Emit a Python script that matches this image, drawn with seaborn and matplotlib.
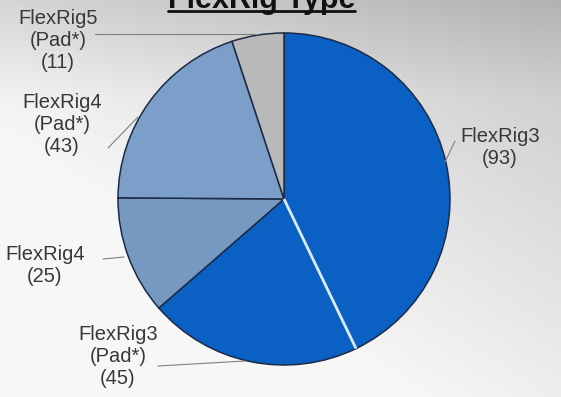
import numpy as np
import matplotlib
matplotlib.use("Agg")
import matplotlib.pyplot as plt
import seaborn as sns

# data
labels = ["FlexRig3\n(93)", "FlexRig3\n(Pad*)\n(45)", "FlexRig4\n(25)",
          "FlexRig4\n(Pad*)\n(43)", "FlexRig5\n(Pad*)\n(11)"]
counts = [93, 45, 25, 43, 11]
colors = ["#0a61c3", "#0a61c3", "#7699c1", "#7b9fc9", "#b9b9b9"]
title = "FlexRig Type"

# label layout (figure pixels, y from top)
label_xy = [(500, 147), (118, 356), (45, 266), (62, 125), (58, 40)]

sns.set_theme(style="white")
plt.rcParams["font.family"] = ["Liberation Sans", "DejaVu Sans"]

W, H = 561, 397
fig = plt.figure(figsize=(W / 100, H / 100), dpi=100)

# gray background, darker toward the top and top right
bg = fig.add_axes([0, 0, 1, 1])
yy, xx = np.mgrid[0:1:200j, 0:1:280j]
shade = (0.965 - 0.17 * np.clip((xx * 0.8 + (1 - yy) * 0.9 - 0.6), 0, None)
         - 0.08 * np.clip(0.25 - yy, 0, None) / 0.25)
bg.imshow(shade, cmap="gray", vmin=0, vmax=1, aspect="auto",
          extent=[0, 1, 0, 1], origin="upper")
bg.axis("off")

ax = fig.add_axes([0, 0, 1, 1])


def fy(y):
    # pixel row from top -> data y
    return H - y


cx, cy, r = 284, 199, 166
ax.pie(counts, colors=colors, startangle=90, counterclock=False,
       center=(cx, fy(cy)), radius=r,
       wedgeprops=dict(edgecolor="#1c2b45", linewidth=1.1))
ax.set_xlim(0, W)
ax.set_ylim(0, H)
ax.set_aspect("equal")
ax.axis("off")

# white divider between the two FlexRig3 slices
ang = np.deg2rad(90 - counts[0] / sum(counts) * 360)
ax.plot([cx, cx + r * np.cos(ang)], [fy(cy), fy(cy) + r * np.sin(ang)],
        color="#dcebff", lw=2, solid_capstyle="butt", zorder=5)

# leaders: (text side point, pie edge point)
leaders = [((455, 141), (445, 162)), ((158, 366), (245, 361)),
           ((103, 259), (124, 257)), ((108, 148), (138, 117)),
           ((95, 34), (258, 34))]
for (t, p) in leaders:
    ax.plot([t[0], p[0]], [fy(t[1]), fy(p[1])], color="#7f7f7f", lw=0.8,
            zorder=1)

for lab, (x, y) in zip(labels, label_xy):
    ax.text(x, fy(y), lab, ha="center", va="center", fontsize=14.5,
            color="#383838", linespacing=1.2, zorder=6)

ax.text(262, fy(8), title, ha="center", va="baseline", fontsize=22,
        fontweight="bold", color="#111111", zorder=6)
ax.plot([168, 355], [fy(11), fy(11)], color="#111111", lw=2, zorder=6)

fig.savefig("out.png", dpi=100)
